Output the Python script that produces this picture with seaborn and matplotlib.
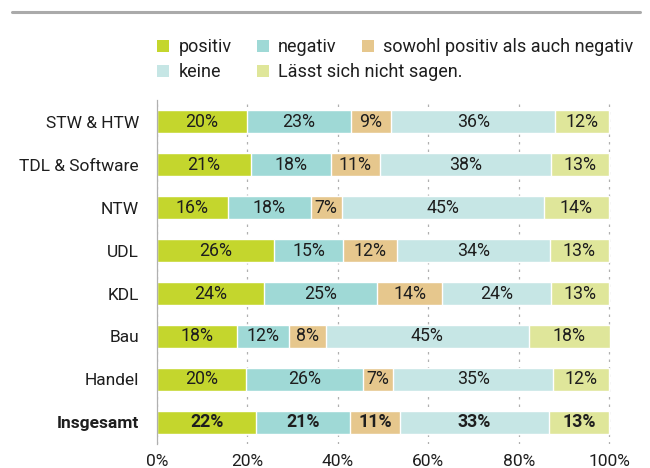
import numpy as np
import pandas as pd
import matplotlib
matplotlib.use("Agg")
import matplotlib.pyplot as plt
from matplotlib.lines import Line2D
from matplotlib.patches import Patch
import seaborn as sns

# Daten (Anteile in %)
branchen = ["STW & HTW", "TDL & Software", "NTW", "UDL", "KDL", "Bau", "Handel", "Insgesamt"]
positiv = [19.9, 20.7, 15.6, 25.9, 23.6, 17.6, 19.6, 22.0]
negativ = [23.0, 17.8, 18.4, 15.3, 25.1, 11.6, 26.0, 20.6]
sowohl = [8.9, 10.8, 6.9, 11.9, 14.4, 8.2, 6.7, 11.2]
keine = [36.3, 37.9, 44.6, 33.8, 24.0, 44.8, 35.4, 32.9]
nicht_sagen = [11.9, 12.8, 14.4, 13.1, 12.9, 17.9, 12.3, 13.3]

serien = ["positiv", "negativ", "sowohl positiv als auch negativ", "keine", "Lässt sich nicht sagen."]
farben = ["#c4d62d", "#9fd9d6", "#e6c78d", "#c6e6e5", "#dfe69a"]
xticks = [0, 20, 40, 60, 80, 100]

df = pd.DataFrame({"positiv": positiv, "negativ": negativ,
                   "sowohl positiv als auch negativ": sowohl,
                   "keine": keine, "Lässt sich nicht sagen.": nicht_sagen},
                  index=branchen)
cum = df.cumsum(axis=1)

sns.set_theme(style="white")
plt.rcParams["font.family"] = ["Roboto", "DejaVu Sans"]
txt = "#1e1e1e"
fs = 12.5

fig = plt.figure(figsize=(6.5, 4.68), dpi=100)
ax = fig.add_axes([0.2415, 0.0513, 0.699, 0.7350])

# gestapelte Balken: kumulierte Summen von hinten nach vorne zeichnen
for s, c in reversed(list(zip(serien, farben))):
    sns.barplot(x=cum[s].values, y=branchen, color=c, orient="h",
                width=0.52, saturation=1, ax=ax, zorder=2)

# Beschriftungen in die Segmente
for s in serien:
    for i, b in enumerate(branchen):
        v = df.loc[b, s]
        mitte = cum.loc[b, s] - v / 2
        ax.text(mitte, i, f"{v:.0f}%", ha="center", va="center", fontsize=12.8,
                color=txt, fontweight="bold" if b == "Insgesamt" else "normal", zorder=3)

ax.set_xlim(0, 100.5)
ax.set_ylim(len(branchen) - 0.5, -0.5)
ax.set_xticks(xticks)
ax.set_xticklabels([f"{t}%" for t in xticks], fontsize=fs, color=txt)
ax.set_xlabel("")
ax.set_ylabel("")
ax.tick_params(axis="y", length=0, pad=13, labelsize=fs, labelcolor=txt)
ax.tick_params(axis="x", length=0, pad=7)
for lbl in ax.get_yticklabels():
    if lbl.get_text() == "Insgesamt":
        lbl.set_fontweight("bold")

ax.xaxis.grid(True, color="#b0b0b0", linestyle=(0, (2, 4)), linewidth=0.9)
ax.set_axisbelow(True)
for sp in ["top", "right", "bottom"]:
    ax.spines[sp].set_visible(False)
ax.spines["left"].set_color("#b0b0b0")
ax.spines["left"].set_linewidth(0.9)

# Legende: Einträge einzeln platzieren
pos_legende = [(0.2415, 0.8996), (0.395, 0.8996), (0.557, 0.8996), (0.2415, 0.846), (0.395, 0.846)]
for s, c, (lx, ly) in zip(serien, farben, pos_legende):
    fig.legend(handles=[Patch(facecolor=c, edgecolor="none", label=s)],
               loc="center left", bbox_to_anchor=(lx, ly), frameon=False,
               fontsize=13, handlelength=0.66, handleheight=0.66,
               handletextpad=0.52, borderpad=0, borderaxespad=0,
               labelcolor=txt)

# graue Linie oben
fig.add_artist(Line2D([0.018, 0.985], [0.975, 0.975], color="#aaaaaa", linewidth=2.2))

fig.savefig("out.png", dpi=100)
